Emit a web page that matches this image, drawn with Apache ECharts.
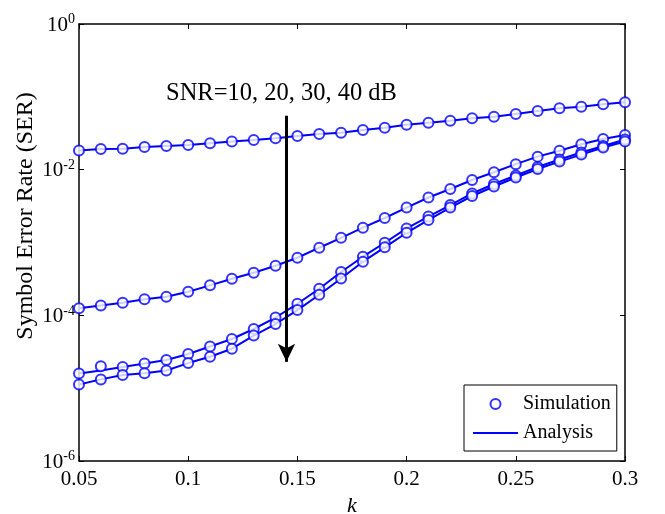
<!DOCTYPE html>
<html>
<head>
<meta charset="utf-8">
<script src="https://cdn.jsdelivr.net/npm/echarts@6/dist/echarts.min.js"></script>
<style>html,body{margin:0;padding:0;background:#fff}#c{width:665px;height:514px}</style>
</head>
<body>
<div id="c"></div>
<script>
const kValues = [0.05,0.06,0.07,0.08,0.09,0.10,0.11,0.12,0.13,0.14,0.15,0.16,0.17,0.18,0.19,0.20,0.21,0.22,0.23,0.24,0.25,0.26,0.27,0.28,0.29,0.30];
const serSNR10 = [1.83e-2,1.92e-2,1.94e-2,2.05e-2,2.11e-2,2.18e-2,2.30e-2,2.44e-2,2.55e-2,2.70e-2,2.90e-2,3.09e-2,3.22e-2,3.51e-2,3.77e-2,4.14e-2,4.41e-2,4.70e-2,5.07e-2,5.33e-2,5.81e-2,6.39e-2,6.96e-2,7.32e-2,7.89e-2,8.41e-2];
const serSNR20 = [1.25e-4,1.36e-4,1.49e-4,1.66e-4,1.80e-4,2.11e-4,2.58e-4,3.18e-4,3.85e-4,4.80e-4,6.18e-4,8.48e-4,1.16e-3,1.60e-3,2.17e-3,3.02e-3,4.15e-3,5.42e-3,7.21e-3,9.20e-3,1.19e-2,1.51e-2,1.82e-2,2.23e-2,2.64e-2,2.99e-2];
const serSNR30 = [1.59e-5,1.75e-5,1.95e-5,2.18e-5,2.44e-5,2.95e-5,3.73e-5,4.73e-5,6.49e-5,9.33e-5,1.44e-4,2.32e-4,3.94e-4,6.38e-4,9.93e-4,1.56e-3,2.27e-3,3.27e-3,4.71e-3,6.36e-3,8.31e-3,1.09e-2,1.38e-2,1.72e-2,2.11e-2,2.59e-2];
const simSNR30 = [1.59e-5,2.00e-5,1.95e-5,2.18e-5,2.44e-5,2.95e-5,3.73e-5,4.73e-5,6.49e-5,9.33e-5,1.44e-4,2.32e-4,3.94e-4,6.38e-4,9.93e-4,1.56e-3,2.27e-3,3.27e-3,4.71e-3,6.36e-3,8.31e-3,1.09e-2,1.38e-2,1.72e-2,2.11e-2,2.59e-2];
const serSNR40 = [1.12e-5,1.32e-5,1.52e-5,1.60e-5,1.75e-5,2.21e-5,2.70e-5,3.48e-5,5.28e-5,7.60e-5,1.18e-4,1.92e-4,3.21e-4,5.45e-4,8.59e-4,1.36e-3,2.04e-3,3.02e-3,4.35e-3,5.87e-3,7.80e-3,1.02e-2,1.29e-2,1.61e-2,2.02e-2,2.44e-2];
const xTickLabels = ['0.05','0.1','0.15','0.2','0.25','0.3'];
const annotationText = 'SNR=10, 20, 30, 40 dB';
const yAxisTitle = 'Symbol Error Rate (SER)';
const arrowK = 0.145;
const arrowFrom = 5.5e-2;
const arrowTo = 2.3e-5;

const FONT = "'Liberation Serif','Times New Roman',serif";
const BLUE = '#0000ff';
const pair = (ys) => kValues.map((k, i) => [k, ys[i]]);

const analysis = [serSNR10, serSNR20, serSNR30, serSNR40];
const simulation = [serSNR10, serSNR20, simSNR30, serSNR40];

const series = [];
analysis.forEach((ys, i) => {
  const s = {
    name: 'Analysis', type: 'line', data: pair(ys), symbol: 'none', showSymbol: false,
    lineStyle: { color: BLUE, width: 2 }, itemStyle: { color: BLUE }, z: 2, animation: false
  };
  if (i === 0) {
    s.markLine = {
      silent: true, animation: false, symbol: ['none', 'arrow'], symbolSize: [13, 18],
      lineStyle: { color: '#000', width: 3, type: 'solid' }, label: { show: false },
      emphasis: { disabled: true },
      data: [[{ coord: [arrowK, arrowFrom] }, { coord: [arrowK, arrowTo] }]]
    };
  }
  series.push(s);
});
simulation.forEach((ys) => {
  series.push({
    name: 'Simulation', type: 'scatter', data: pair(ys), symbol: 'emptyCircle', symbolSize: 10,
    itemStyle: { color: BLUE, borderColor: BLUE, borderWidth: 2.2 }, z: 3, animation: false
  });
});

const axisLine = { show: true, lineStyle: { color: '#000', width: 1.5 } };
const chart = echarts.init(document.getElementById('c'), null, { renderer: 'canvas' });
chart.setOption({
  animation: false,
  backgroundColor: '#fff',
  grid: { left: 79, right: 40, top: 24, bottom: 53, containLabel: false, outerBoundsMode: 'none' },
  legend: {
    data: [
      { name: 'Simulation' },
      { name: 'Analysis', itemStyle: { opacity: 0 } }
    ],
    orient: 'vertical', left: 464, top: 385,
    padding: [9, 6, 8, 8], itemGap: 9, itemWidth: 45, itemHeight: 10,
    borderColor: '#000', borderWidth: 1, backgroundColor: '#fff', borderRadius: 0,
    textStyle: { fontFamily: FONT, fontSize: 20, color: '#000', lineHeight: 20 },
    selectedMode: false, z: 10
  },
  xAxis: [{
    type: 'value', min: 0.05, max: 0.3, interval: 0.05, position: 'bottom',
    name: 'k', nameLocation: 'middle', nameGap: 28,
    nameTextStyle: { fontFamily: FONT, fontSize: 22, fontStyle: 'italic', color: '#000' },
    axisLine, splitLine: { show: false },
    axisTick: { show: true, inside: true, length: 5, lineStyle: { color: '#000', width: 1 } },
    axisLabel: { fontFamily: FONT, fontSize: 21, color: '#000', margin: 8,
      formatter: (v) => { const i = Math.round((v - 0.05) / 0.05); return xTickLabels[i] || ''; } }
  }, {
    type: 'value', min: 0.05, max: 0.3, interval: 0.05, position: 'top',
    axisLine, splitLine: { show: false }, axisLabel: { show: false },
    axisTick: { show: true, inside: true, length: 5, lineStyle: { color: '#000', width: 1 } }
  }],
  yAxis: [{
    type: 'log', logBase: 10, min: 1e-6, max: 1, interval: 2, position: 'left',
    axisLine, splitLine: { show: false }, minorTick: { show: false },
    axisTick: { show: true, inside: true, length: 5, lineStyle: { color: '#000', width: 1 } },
    axisLabel: {
      margin: 4, color: '#000',
      formatter: (v) => { const e = Math.round(Math.log10(v)); return '{b|10}{s|' + (e === 0 ? '0' : String(e)) + '}'; },
      rich: {
        b: { fontFamily: FONT, fontSize: 21, color: '#000', padding: [2, 0, 0, 0] },
        s: { fontFamily: FONT, fontSize: 14, color: '#000', verticalAlign: 'top', padding: [0, 0, 8, 0] }
      }
    }
  }, {
    type: 'log', logBase: 10, min: 1e-6, max: 1, interval: 2, position: 'right',
    axisLine, splitLine: { show: false }, axisLabel: { show: false },
    axisTick: { show: true, inside: true, length: 5, lineStyle: { color: '#000', width: 1 } }
  }],
  graphic: [{
    type: 'text', left: 166, top: 81, z: 20,
    style: { text: annotationText, fontFamily: FONT, fontSize: 24.5, fill: '#000' }
  }, {
    type: 'text', x: 26, y: 216, rotation: Math.PI / 2, z: 20,
    style: { text: yAxisTitle, fontFamily: FONT, fontSize: 24, fill: '#000', align: 'center', verticalAlign: 'middle' }
  }],
  series
});
</script>
</body>
</html>
